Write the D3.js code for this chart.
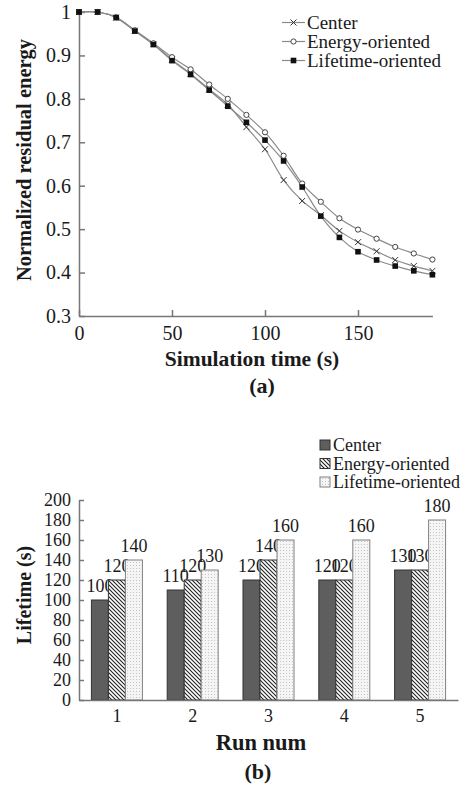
<!DOCTYPE html>
<html>
<head>
  <title>Residual energy and lifetime</title>
  <style>
    body { margin: 0; background: #fff; }
    text { font-family: "Liberation Serif", "Times New Roman", serif; fill: #1a1a1a; }
    .title { font-weight: bold; }
    .axis path, .axis line { stroke: #777; stroke-width: 1.5; }
  </style>
</head>
<body>
  <script src="https://d3js.org/d3.v7.min.js"></script>
  <script>
    // Top chart data (a)
    var times = [0, 10, 20, 30, 40, 50, 60, 70, 80, 90, 100, 110, 120, 130, 140, 150, 160, 170, 180, 190];
    var center = [1, 1, 0.987, 0.957, 0.926, 0.890, 0.858, 0.822, 0.787, 0.735, 0.684, 0.613, 0.565, 0.532, 0.496, 0.470, 0.449, 0.429, 0.415, 0.404];
    var energy = [1, 1, 0.988, 0.958, 0.928, 0.896, 0.868, 0.833, 0.800, 0.763, 0.723, 0.669, 0.605, 0.563, 0.525, 0.499, 0.478, 0.459, 0.444, 0.430];
    var lifetime = [1, 1, 0.987, 0.956, 0.925, 0.888, 0.856, 0.820, 0.783, 0.746, 0.705, 0.657, 0.597, 0.530, 0.481, 0.448, 0.429, 0.415, 0.404, 0.395];
    var xTicksA = [0, 50, 100, 150];
    var yTicksA = [0.3, 0.4, 0.5, 0.6, 0.7, 0.8, 0.9, 1];

    // Bottom chart data (b)
    var runs = ["1", "2", "3", "4", "5"];
    var centerLife = [100, 110, 120, 120, 130];
    var energyLife = [120, 120, 140, 120, 130];
    var lifetimeLife = [140, 130, 160, 160, 180];
    var yTicksB = [0, 20, 40, 60, 80, 100, 120, 140, 160, 180, 200];

    var seriesNames = ["Center", "Energy-oriented", "Lifetime-oriented"];

    var svg = d3.select("body").append("svg")
      .attr("width", 465)
      .attr("height", 788);

    var defs = svg.append("defs");
    var hatch = defs.append("pattern")
      .attr("id", "hatch")
      .attr("patternUnits", "userSpaceOnUse")
      .attr("width", 4).attr("height", 4);
    hatch.append("rect").attr("width", 4).attr("height", 4).attr("fill", "#fff");
    hatch.append("path")
      .attr("d", "M0,0 L4,4 M-1,3 L1,5 M3,-1 L5,1")
      .attr("stroke", "#222").attr("stroke-width", 1.1);

    var dots = defs.append("pattern")
      .attr("id", "dots")
      .attr("patternUnits", "userSpaceOnUse")
      .attr("width", 3).attr("height", 3);
    dots.append("rect").attr("width", 3).attr("height", 3).attr("fill", "#f5f5f5");
    dots.append("rect").attr("x", 1).attr("y", 1).attr("width", 1).attr("height", 1).attr("fill", "#c4c4c4");

    // ---------- Chart (a) ----------
    var xA = d3.scaleLinear().domain([0, 190]).range([79, 432.4]);
    var yA = d3.scaleLinear().domain([0.3, 1]).range([316, 12]);

    var gA = svg.append("g");

    gA.append("g")
      .attr("class", "axis")
      .attr("transform", "translate(0," + yA(0.3) + ")")
      .call(d3.axisBottom(xA).tickValues(xTicksA).tickSize(-6).tickPadding(10).tickSizeOuter(0))
      .call(function (g) { g.selectAll("text").attr("font-size", 20).attr("dy", "0.72em"); });

    gA.append("g")
      .attr("class", "axis")
      .attr("transform", "translate(" + xA(0) + ",0)")
      .call(d3.axisLeft(yA).tickValues(yTicksA).tickSize(-6).tickPadding(8).tickSizeOuter(0)
        .tickFormat(function (d) { return d === 1 ? "1" : d.toFixed(1); }))
      .call(function (g) { g.selectAll("text").attr("font-size", 20); });

    var lineA = d3.line()
      .x(function (d) { return xA(d[0]); })
      .y(function (d) { return yA(d[1]); })
      .curve(d3.curveCatmullRom);

    var seriesA = [center, energy, lifetime];
    seriesA.forEach(function (vals, i) {
      var pts = times.map(function (t, j) { return [t, vals[j]]; });
      gA.append("path")
        .datum(pts)
        .attr("fill", "none")
        .attr("stroke", "#8a8a8a")
        .attr("stroke-width", 1.2)
        .attr("d", lineA);
    });

    function marker(g, type, x, y) {
      if (type === 0) {
        g.append("path")
          .attr("d", "M" + (x - 3) + "," + (y - 3) + "L" + (x + 3) + "," + (y + 3) +
            "M" + (x - 3) + "," + (y + 3) + "L" + (x + 3) + "," + (y - 3))
          .attr("stroke", "#333").attr("stroke-width", 1);
      } else if (type === 1) {
        g.append("circle").attr("cx", x).attr("cy", y).attr("r", 2.6)
          .attr("fill", "#fff").attr("stroke", "#444").attr("stroke-width", 1);
      } else {
        g.append("rect").attr("x", x - 2.8).attr("y", y - 2.8)
          .attr("width", 5.6).attr("height", 5.6).attr("fill", "#111");
      }
    }

    seriesA.forEach(function (vals, i) {
      times.forEach(function (t, j) { marker(gA, i, xA(t), yA(vals[j])); });
    });

    // legend (a)
    seriesNames.forEach(function (name, i) {
      var ly = 22.5 + i * 19;
      gA.append("line").attr("x1", 282).attr("x2", 305).attr("y1", ly).attr("y2", ly)
        .attr("stroke", "#8a8a8a").attr("stroke-width", 1.2);
      marker(gA, i, 293.5, ly);
      gA.append("text").attr("x", 307).attr("y", ly).attr("dy", "0.35em")
        .attr("font-size", 19).text(name);
    });

    gA.append("text").attr("class", "title")
      .attr("transform", "translate(31,160) rotate(-90)")
      .attr("text-anchor", "middle").attr("font-size", 20.5)
      .text("Normalized residual energy");

    gA.append("text").attr("class", "title")
      .attr("x", 252).attr("y", 366)
      .attr("text-anchor", "middle").attr("font-size", 21.5)
      .text("Simulation time (s)");

    gA.append("text").attr("class", "title")
      .attr("x", 262).attr("y", 393)
      .attr("text-anchor", "middle").attr("font-size", 22)
      .text("(a)");

    // ---------- Chart (b) ----------
    var xB = d3.scaleBand().domain(runs).range([79, 458]).padding(0);
    var yB = d3.scaleLinear().domain([0, 200]).range([700, 500]);
    var barW = 17;
    var groupOff = (xB.bandwidth() - barW * 3) / 2;

    var gB = svg.append("g");

    gB.append("g")
      .attr("class", "axis")
      .attr("transform", "translate(" + xB.range()[0] + ",0)")
      .call(d3.axisLeft(yB).tickValues(yTicksB).tickSize(-5).tickPadding(8).tickSizeOuter(0))
      .call(function (g) { g.selectAll("text").attr("font-size", 18); });

    var fills = ["#5e5e5e", "url(#hatch)", "url(#dots)"];
    var strokes = ["#333", "#333", "#808080"];
    var seriesB = [centerLife, energyLife, lifetimeLife];

    seriesB.forEach(function (vals, i) {
      var data = runs.map(function (r, j) { return { run: r, value: vals[j] }; });
      var g = gB.append("g");
      g.selectAll("rect")
        .data(data)
        .enter().append("rect")
        .attr("x", function (d) { return xB(d.run) + groupOff + i * barW; })
        .attr("y", function (d) { return yB(d.value); })
        .attr("width", barW)
        .attr("height", function (d) { return yB(0) - yB(d.value); })
        .attr("fill", fills[i])
        .attr("stroke", strokes[i])
        .attr("stroke-width", 1);
      g.selectAll("text")
        .data(data)
        .enter().append("text")
        .attr("x", function (d) { return xB(d.run) + groupOff + i * barW + barW / 2; })
        .attr("y", function (d) { return yB(d.value) - 8; })
        .attr("text-anchor", "middle")
        .attr("font-size", 18)
        .text(function (d) { return d.value; });
    });

    gB.append("g")
      .attr("class", "axis")
      .attr("transform", "translate(0," + yB(0) + ")")
      .call(d3.axisBottom(xB).tickSize(0).tickPadding(9).tickSizeOuter(0))
      .call(function (g) { g.selectAll("text").attr("font-size", 18).attr("dy", "0.72em"); });

    // legend (b)
    seriesNames.forEach(function (name, i) {
      var ly = 445 + i * 18.5;
      gB.append("rect").attr("x", 320).attr("y", ly - 5).attr("width", 10).attr("height", 10)
        .attr("fill", fills[i]).attr("stroke", strokes[i]).attr("stroke-width", 1);
      gB.append("text").attr("x", 333).attr("y", ly).attr("dy", "0.35em")
        .attr("font-size", 18).text(name);
    });

    gB.append("text").attr("class", "title")
      .attr("transform", "translate(31,595) rotate(-90)")
      .attr("text-anchor", "middle").attr("font-size", 20)
      .text("Lifetime (s)");

    gB.append("text").attr("class", "title")
      .attr("x", 261).attr("y", 750)
      .attr("text-anchor", "middle").attr("font-size", 22.5)
      .text("Run num");

    gB.append("text").attr("class", "title")
      .attr("x", 258).attr("y", 779)
      .attr("text-anchor", "middle").attr("font-size", 22)
      .text("(b)");
  </script>
</body>
</html>
